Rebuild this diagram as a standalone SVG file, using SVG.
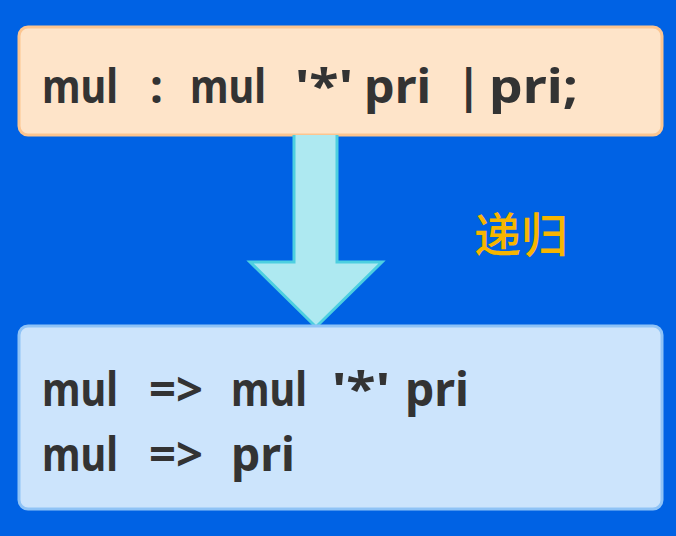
<svg xmlns="http://www.w3.org/2000/svg" width="676" height="536" viewBox="0 0 676 536">
<style>
.code{font-family:"Noto Sans","DejaVu Sans",sans-serif;font-weight:700;font-size:46px;fill:#333333}
.lbl{font-family:"Noto Sans CJK SC","Noto Sans",sans-serif;font-weight:500;font-size:47px;fill:#f7b500}
</style>
<rect x="0" y="0" width="676" height="536" fill="#0062e4"/>
<g id="rule">
<rect x="19" y="27" width="643" height="108" rx="9" fill="#fee4c9" stroke="#fcc590" stroke-width="3"/>
<text class="code" y="103"><tspan x="42" textLength="76" lengthAdjust="spacingAndGlyphs">mul</tspan><tspan x="150">:</tspan><tspan x="190" textLength="76" lengthAdjust="spacingAndGlyphs">mul</tspan><tspan x="295" textLength="58" lengthAdjust="spacingAndGlyphs">'*'</tspan><tspan x="364" textLength="67" lengthAdjust="spacingAndGlyphs">pri</tspan><tspan x="456">|</tspan><tspan x="489" textLength="89" lengthAdjust="spacingAndGlyphs">pri;</tspan></text>
</g>
<g id="connectors">
<path d="M294,135 L294,262 L250,262 L316,327 L382,262 L337,262 L337,135" fill="#aee9f1" stroke="#4dcfe0" stroke-width="3" stroke-linejoin="miter"/>
</g>
<g id="label">
<text class="lbl" x="474" y="252">递归</text>
</g>
<g id="derivation">
<rect x="19" y="326" width="643" height="183" rx="9" fill="#cce4fc" stroke="#8fc3f6" stroke-width="3"/>
<text class="code" y="406"><tspan x="42" textLength="76" lengthAdjust="spacingAndGlyphs">mul</tspan><tspan x="149" textLength="54" lengthAdjust="spacingAndGlyphs">=&gt;</tspan><tspan x="231" textLength="76" lengthAdjust="spacingAndGlyphs">mul</tspan><tspan x="332" textLength="58" lengthAdjust="spacingAndGlyphs">'*'</tspan><tspan x="405" textLength="64" lengthAdjust="spacingAndGlyphs">pri</tspan></text>
<text class="code" y="471"><tspan x="42" textLength="76" lengthAdjust="spacingAndGlyphs">mul</tspan><tspan x="149" textLength="54" lengthAdjust="spacingAndGlyphs">=&gt;</tspan><tspan x="231" textLength="64" lengthAdjust="spacingAndGlyphs">pri</tspan></text>
</g>
</svg>
